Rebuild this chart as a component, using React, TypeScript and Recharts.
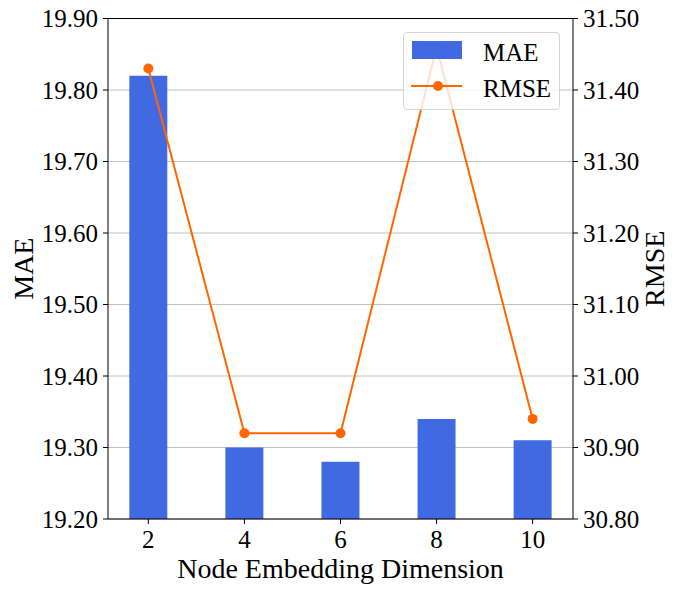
import React from 'react';
import {
	Bar,
	CartesianGrid,
	ComposedChart,
	Label,
	Line,
	ReferenceLine,
	XAxis,
	YAxis,
} from 'recharts';

const dims = [2, 4, 6, 8, 10];
const mae = [19.82, 19.3, 19.28, 19.34, 19.31];
const rmse = [31.43, 30.92, 30.92, 31.46, 30.94];
const maeTicks = [19.2, 19.3, 19.4, 19.5, 19.6, 19.7, 19.8, 19.9];
const rmseTicks = [30.8, 30.9, 31.0, 31.1, 31.2, 31.3, 31.4, 31.5];

const FONT = 'Liberation Serif';
const BLUE = '#4169e1';
const ORANGE = '#ff6600';

const data = dims.map((d, i) => ({ dim: d, MAE: mae[i], RMSE: rmse[i] }));

const labelStyle = { fontFamily: FONT, fontSize: 28, fill: '#000', textAnchor: 'middle' as const };

// custom tick so the serif font is actually used
const makeTick = (dy: string, fmt: (v: number) => string) => (props: any) => {
	const { x, y, payload, textAnchor } = props;
	return (
		<text
			x={x}
			y={y}
			dy={dy}
			textAnchor={textAnchor}
			style={{ fontFamily: FONT, fontSize: 25, fill: '#000' }}
		>
			{fmt(payload.value)}
		</text>
	);
};
const fix2 = (v: number) => v.toFixed(2);
const xTick = makeTick('0.71em', (v) => String(v));
const yTick = makeTick('0.355em', fix2);

// legend drawn over the plot, like matplotlib's framed legend
const LegendBox = () => (
	<div
		style={{
			position: 'absolute',
			left: 403,
			top: 32,
			width: 155,
			height: 76,
			border: '1px solid #d5d5d5',
			borderRadius: 4,
			background: 'rgba(255,255,255,0.8)',
		}}
	>
		<svg width={155} height={76} style={{ display: 'block' }}>
			<rect x={8} y={8} width={50} height={18} fill={BLUE} />
			<text x={79} y={28} style={{ fontFamily: FONT, fontSize: 25 }}>
				MAE
			</text>
			<line x1={7} x2={58} y1={53} y2={53} stroke={ORANGE} strokeWidth={2} />
			<circle cx={34} cy={53} r={5} fill={ORANGE} />
			<text x={79} y={64} style={{ fontFamily: FONT, fontSize: 25 }}>
				RMSE
			</text>
		</svg>
	</div>
);

const App = () => {
	return (
		<div
			style={{
				position: 'absolute',
				left: 0,
				top: 0,
				width: 680,
				height: 594,
				background: '#fff',
				fontFamily: FONT,
			}}
		>
			<ComposedChart width={680} height={594} data={data} margin={{ top: 18.5, right: 0, left: 0, bottom: 0 }}>
				<CartesianGrid yAxisId='left' vertical={false} stroke='#b0b0b0' strokeWidth={0.8} />
				<XAxis
					dataKey='dim'
					type='number'
					domain={[1.16, 10.84]}
					ticks={dims}
					allowDataOverflow
					height={75}
					tickSize={5}
					tickMargin={6}
					tick={xTick}
					stroke='#000'
				>
					<Label value='Node Embedding Dimension' position='insideBottom' offset={16} style={labelStyle} />
				</XAxis>
				<YAxis
					yAxisId='left'
					domain={[19.2, 19.9]}
					ticks={maeTicks}
					allowDataOverflow
					width={108}
					tickSize={5}
					tickMargin={5}
					tick={yTick}
					stroke='#000'
				>
					<Label value='MAE' angle={-90} position='insideLeft' offset={23} style={labelStyle} />
				</YAxis>
				<YAxis
					yAxisId='right'
					orientation='right'
					domain={[30.8, 31.5]}
					ticks={rmseTicks}
					allowDataOverflow
					width={107}
					tickSize={5}
					tickMargin={5}
					tick={yTick}
					stroke='#000'
				>
					<Label value='RMSE' angle={-90} position='insideRight' offset={26} style={labelStyle} />
				</YAxis>
				<ReferenceLine yAxisId='left' y={19.9} stroke='#000' strokeWidth={1} />
				<Bar yAxisId='left' dataKey='MAE' barSize={38} fill={BLUE} isAnimationActive={false} />
				<Line
					yAxisId='right'
					dataKey='RMSE'
					stroke={ORANGE}
					strokeWidth={2}
					dot={{ r: 5, fill: ORANGE, stroke: 'none' }}
					activeDot={false}
					isAnimationActive={false}
				/>
			</ComposedChart>
			<LegendBox />
		</div>
	);
};

export default App;
